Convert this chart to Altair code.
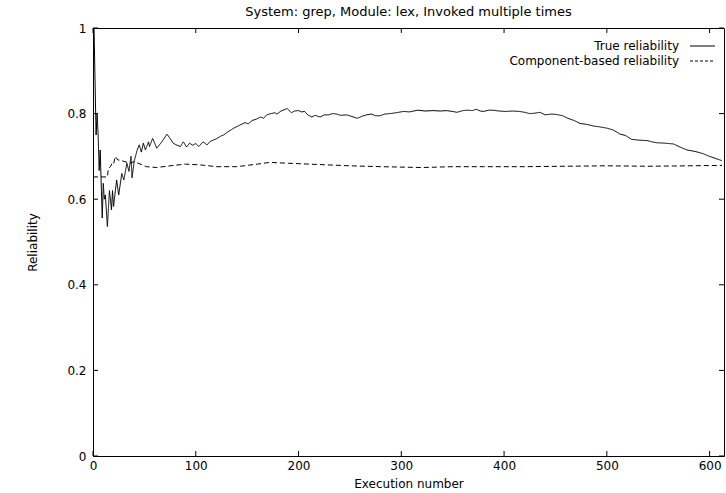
import altair as alt
import pandas as pd

chart_title = "System: grep, Module: lex, Invoked multiple times"
x_title = "Execution number"
y_title = "Reliability"
series_names = ["True reliability", "Component-based reliability"]

true_x = [1, 3, 4, 5, 6, 7, 9, 10, 11, 12, 14, 16, 18, 19, 20, 23, 25, 28, 30, 33, 35, 37, 38,
          40, 43, 45, 47, 49, 51, 54, 55, 58, 60, 62, 67, 72, 75, 78, 81, 85, 88, 91, 94,
          97, 100, 103, 107, 111, 114, 117, 120, 124, 127, 131, 137, 142, 148, 151, 155, 159,
          163, 166, 169, 173, 177, 179, 183, 189, 193, 196, 200, 203, 206, 209, 213, 216, 221,
          225, 229, 233, 237, 241, 247, 251, 257, 262, 266, 271, 275, 279, 284, 289, 295, 302,
          308, 316, 323, 331, 338, 344, 350, 354, 360, 364, 369, 373, 377, 380, 385, 389, 395,
          402, 408, 415, 420, 425, 430, 435, 440, 446, 451, 457, 462, 468, 474, 480, 487, 493,
          500, 506, 513, 518, 524, 531, 539, 544, 548, 556, 565, 571, 578, 585, 590, 594, 600,
          606, 612]
true_y = [1.0, 0.75, 0.80, 0.75, 0.667, 0.715, 0.556, 0.637, 0.60, 0.61, 0.536, 0.62, 0.575, 0.62,
          0.583, 0.645, 0.61, 0.66, 0.645, 0.684, 0.665, 0.70, 0.65,
          0.688, 0.715, 0.727, 0.71, 0.731, 0.715, 0.734, 0.723, 0.742, 0.731, 0.719, 0.734,
          0.752, 0.742, 0.731, 0.727, 0.723, 0.734, 0.722, 0.731,
          0.726, 0.730, 0.723, 0.734, 0.727, 0.735, 0.738, 0.741, 0.747, 0.750, 0.757, 0.766,
          0.772, 0.779, 0.776, 0.784, 0.787, 0.792, 0.789, 0.797, 0.800, 0.802, 0.799, 0.806,
          0.812, 0.802, 0.806, 0.807, 0.804, 0.805, 0.797, 0.792, 0.796, 0.792, 0.797, 0.797,
          0.800, 0.799, 0.796, 0.797, 0.794, 0.789, 0.794, 0.797, 0.799, 0.795, 0.795, 0.799,
          0.800, 0.802, 0.805, 0.804, 0.808, 0.806, 0.807, 0.806, 0.807, 0.805, 0.803, 0.807,
          0.808, 0.807, 0.810, 0.806, 0.805, 0.808, 0.808, 0.806, 0.805, 0.806, 0.805, 0.803,
          0.800, 0.801, 0.803, 0.797, 0.799, 0.798, 0.795, 0.789, 0.784, 0.777, 0.775, 0.771,
          0.769, 0.766, 0.762, 0.752, 0.749, 0.740, 0.738, 0.737, 0.734, 0.732, 0.731, 0.729,
          0.722, 0.715, 0.712, 0.709, 0.706, 0.700, 0.695, 0.690]

comp_x = [0, 14, 15, 17, 18.5, 20, 21.7, 24, 28, 36, 40, 52, 62, 75, 90, 105, 120, 140, 160, 172,
          190, 220, 250, 280, 320, 350, 380, 420, 460, 500, 540, 580, 612]
comp_y = [0.652, 0.652, 0.672, 0.676, 0.684, 0.682, 0.700, 0.692, 0.690, 0.684, 0.688, 0.676,
          0.674, 0.678, 0.682, 0.680, 0.676, 0.676, 0.682, 0.686, 0.684, 0.681, 0.678, 0.676,
          0.674, 0.676, 0.676, 0.676, 0.677, 0.678, 0.677, 0.678, 0.679]

x_ticks = [0, 100, 200, 300, 400, 500, 600]
y_ticks = [0, 0.2, 0.4, 0.6, 0.8, 1.0]

W, H = 631, 428
FONT = "DejaVu Sans"
FS = 12

df = pd.concat([
    pd.DataFrame({"x": true_x, "y": true_y, "series": series_names[0]}),
    pd.DataFrame({"x": comp_x, "y": comp_y, "series": series_names[1]}),
], ignore_index=True)

x_scale = alt.Scale(domain=[0, 614], nice=False, zero=False)
y_scale = alt.Scale(domain=[0, 1], nice=False)

x_axis = alt.Axis(values=x_ticks, tickSize=0, domain=False, grid=False, labelPadding=4,
                  labelFontSize=FS, labelColor="black", title=x_title, titleFontSize=FS,
                  titleFontWeight="normal", titleColor="black", titleX=W / 2, titleY=27,
                  titleBaseline="middle", titleAlign="center", labelFlush=False)
y_axis = alt.Axis(values=y_ticks, tickSize=0, domain=False, grid=False, labelPadding=7,
                  labelFontSize=FS, labelColor="black", format="~g", title=y_title,
                  titleFontSize=FS, titleFontWeight="normal", titleColor="black",
                  titleX=-61, titleY=H / 2, titleBaseline="middle", titleAlign="center",
                  labelFlush=False)

dash_scale = alt.Scale(domain=series_names, range=[[1, 0], [5, 3]])

lines = alt.Chart(df).mark_line(color="black", strokeWidth=1, clip=True).encode(
    x=alt.X("x:Q", scale=x_scale, axis=x_axis),
    y=alt.Y("y:Q", scale=y_scale, axis=y_axis),
    strokeDash=alt.StrokeDash("series:N", scale=dash_scale, legend=None),
    detail="series:N",
)

xt = pd.DataFrame({"x": x_ticks})
yt = pd.DataFrame({"y": y_ticks})
TL = 5
xtick_b = alt.Chart(xt).mark_rule(color="black", strokeWidth=1).encode(
    x=alt.X("x:Q", scale=x_scale, axis=x_axis), y=alt.value(H), y2=alt.value(H - TL))
xtick_t = alt.Chart(xt).mark_rule(color="black", strokeWidth=1).encode(
    x=alt.X("x:Q", scale=x_scale, axis=x_axis), y=alt.value(0), y2=alt.value(TL))
ytick_l = alt.Chart(yt).mark_rule(color="black", strokeWidth=1).encode(
    y=alt.Y("y:Q", scale=y_scale, axis=y_axis), x=alt.value(0), x2=alt.value(TL))
ytick_r = alt.Chart(yt).mark_rule(color="black", strokeWidth=1).encode(
    y=alt.Y("y:Q", scale=y_scale, axis=y_axis), x=alt.value(W), x2=alt.value(W - TL))

leg = pd.DataFrame({"series": series_names})
LX_T, LX1, LX2 = 586, 597, 622
LY1, LY2 = 18, 33
leg_text1 = alt.Chart(leg).transform_filter(alt.datum.series == series_names[0]).mark_text(
    align="right", baseline="middle", fontSize=FS, font=FONT, color="black").encode(
    x=alt.value(LX_T), y=alt.value(LY1), text="series:N")
leg_text2 = alt.Chart(leg).transform_filter(alt.datum.series == series_names[1]).mark_text(
    align="right", baseline="middle", fontSize=FS, font=FONT, color="black").encode(
    x=alt.value(LX_T), y=alt.value(LY2), text="series:N")
leg_line1 = alt.Chart(leg).transform_filter(alt.datum.series == series_names[0]).mark_rule(
    color="black", strokeWidth=1).encode(x=alt.value(LX1), x2=alt.value(LX2), y=alt.value(LY1))
leg_line2 = alt.Chart(leg).transform_filter(alt.datum.series == series_names[1]).mark_rule(
    color="black", strokeWidth=1, strokeDash=[3, 2]).encode(
    x=alt.value(LX1), x2=alt.value(LX2), y=alt.value(LY2))

chart = alt.layer(
    lines, xtick_b, xtick_t, ytick_l, ytick_r, leg_text1, leg_text2, leg_line1, leg_line2
).properties(
    width=W, height=H,
    title=alt.TitleParams(text=chart_title, fontSize=13, fontWeight="normal", font=FONT,
                          color="black", anchor="middle", offset=3),
    autosize=alt.AutoSizeParams(type="none"),
    padding={"left": 93, "top": 28, "right": 2, "bottom": 37},
).configure(
    font=FONT,
    background="white",
).configure_view(
    stroke="black", strokeWidth=1,
).configure_axis(
    labelFont=FONT, titleFont=FONT,
)

chart.save("out.html", embed_options={"renderer": "svg", "actions": False})
